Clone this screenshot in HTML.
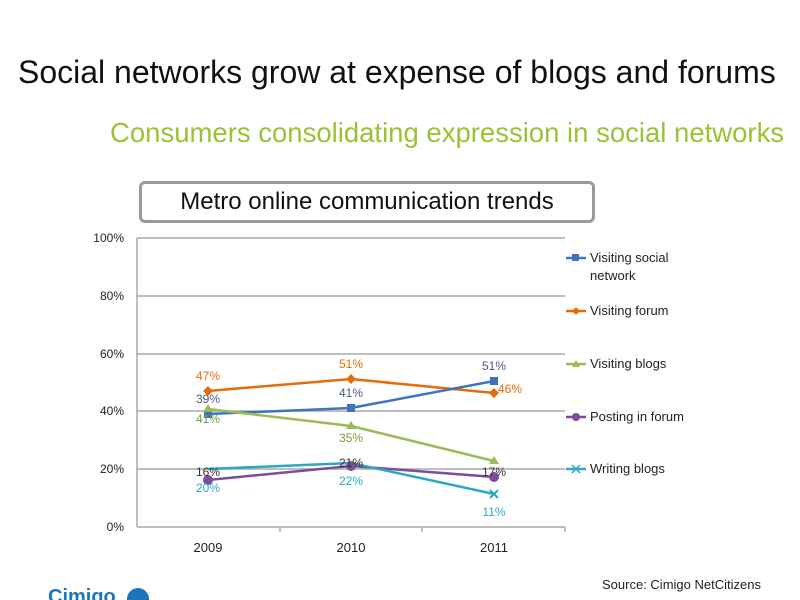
<html><body style="margin:0;width:800px;height:600px;background:#fff;position:relative;overflow:hidden;font-family:'Liberation Sans',sans-serif">
<div style="position:absolute;left:18px;top:54px;font-size:32px;color:#111;white-space:nowrap">Social networks grow at expense of blogs and forums</div>
<div style="position:absolute;left:110px;top:117px;font-size:27.5px;color:#9bc233;white-space:nowrap">Consumers consolidating expression in social networks</div>
<div style="position:absolute;left:139px;top:181px;width:456px;height:42px;border:3px solid #999;border-radius:6px;box-sizing:border-box;text-align:center;font-size:24px;line-height:36px;color:#111;white-space:nowrap">Metro online communication trends</div>
<svg width="800" height="600" style="position:absolute;left:0;top:0" font-family="Liberation Sans, sans-serif">
<g stroke="#aaa" stroke-width="1.5">
<line x1="137" y1="238" x2="565" y2="238"/><line x1="137" y1="296" x2="565" y2="296"/><line x1="137" y1="354" x2="565" y2="354"/><line x1="137" y1="411" x2="565" y2="411"/><line x1="137" y1="469" x2="565" y2="469"/>
<line x1="137" y1="238" x2="137" y2="527"/><line x1="137" y1="527" x2="565" y2="527"/>
<line x1="280" y1="527" x2="280" y2="532"/><line x1="422" y1="527" x2="422" y2="532"/><line x1="565" y1="527" x2="565" y2="532"/>
</g>
<g font-size="12" fill="#222" text-anchor="end">
<text x="124" y="242">100%</text><text x="124" y="300">80%</text><text x="124" y="358">60%</text><text x="124" y="415">40%</text><text x="124" y="473">20%</text><text x="124" y="531">0%</text>
</g>
<g font-size="13" fill="#222" text-anchor="middle"><text x="208" y="552">2009</text><text x="351" y="552">2010</text><text x="494" y="552">2011</text></g>
<g fill="none" stroke-width="2.5">
<polyline stroke="#e46c0a" points="208,391 351,379 494,393"/>
<polyline stroke="#3f74bd" points="208,414 351,408 494,381"/>
<polyline stroke="#9bbb59" points="208,409 351,426 494,461"/>
<polyline stroke="#7b4d9a" points="208,480 351,466 494,477"/>
<polyline stroke="#2fa6c4" points="208,469 351,463 494,494"/>
</g>
<g fill="#e46c0a"><path d="M208 386l5 5-5 5-5-5z M351 374l5 5-5 5-5-5z M494 388l5 5-5 5-5-5z"/></g>
<g fill="#3f74bd"><rect x="204" y="410" width="8" height="8"/><rect x="347" y="404" width="8" height="8"/><rect x="490" y="377" width="8" height="8"/></g>
<g fill="#9bbb59"><path d="M208 404l5 8h-10z M351 421l5 8h-10z M494 456l5 8h-10z"/></g>
<g fill="#7b4d9a"><circle cx="208" cy="480" r="5"/><circle cx="351" cy="466" r="5"/><circle cx="494" cy="477" r="5"/></g>
<g stroke="#2fa6c4" stroke-width="2"><path d="M490 490l8 8M498 490l-8 8"/></g>
<g font-size="12" text-anchor="middle">
<text x="208" y="380" fill="#e46c0a">47%</text><text x="351" y="368" fill="#e46c0a">51%</text><text x="510" y="393" fill="#e46c0a">46%</text>
<text x="208" y="403" fill="#4a5a80">39%</text><text x="351" y="397" fill="#4a5a80">41%</text><text x="494" y="370" fill="#4a5a80">51%</text>
<text x="208" y="423" fill="#7d9a3f">41%</text><text x="351" y="442" fill="#7d9a3f">35%</text>
<text x="208" y="476" fill="#333">16%</text><text x="351" y="467" fill="#333">21%</text><text x="494" y="476" fill="#333">17%</text>
<text x="208" y="492" fill="#2fa6c4">20%</text><text x="351" y="485" fill="#2fa6c4">22%</text><text x="494" y="516" fill="#2fa6c4">11%</text>
</g>
<g stroke-width="2.5">
<line x1="566" y1="258" x2="586" y2="258" stroke="#3f74bd"/><rect x="572" y="254" width="7" height="7" fill="#3f74bd"/>
<line x1="566" y1="311" x2="586" y2="311" stroke="#e46c0a"/><path d="M576 307l4 4-4 4-4-4z" fill="#e46c0a"/>
<line x1="566" y1="364" x2="586" y2="364" stroke="#9bbb59"/><path d="M576 360l4 7h-8z" fill="#9bbb59"/>
<line x1="566" y1="417" x2="586" y2="417" stroke="#7b4d9a"/><circle cx="576" cy="417" r="4" fill="#7b4d9a"/>
<line x1="566" y1="469" x2="586" y2="469" stroke="#2fa6c4"/><path d="M572 465l8 8M580 465l-8 8" stroke="#2fa6c4" stroke-width="1.5"/>
</g>
<g font-size="13" fill="#222">
<text x="590" y="262">Visiting social</text><text x="590" y="280">network</text>
<text x="590" y="315">Visiting forum</text><text x="590" y="368">Visiting blogs</text>
<text x="590" y="421">Posting in forum</text><text x="590" y="473">Writing blogs</text>
</g>
<text x="602" y="589" font-size="13" fill="#222">Source: Cimigo NetCitizens</text>
<text x="48" y="603" font-size="20" font-weight="bold" fill="#1b75bb">Cimigo</text>
<circle cx="138" cy="599" r="11" fill="#1b75bb"/>
</svg>
</body></html>
